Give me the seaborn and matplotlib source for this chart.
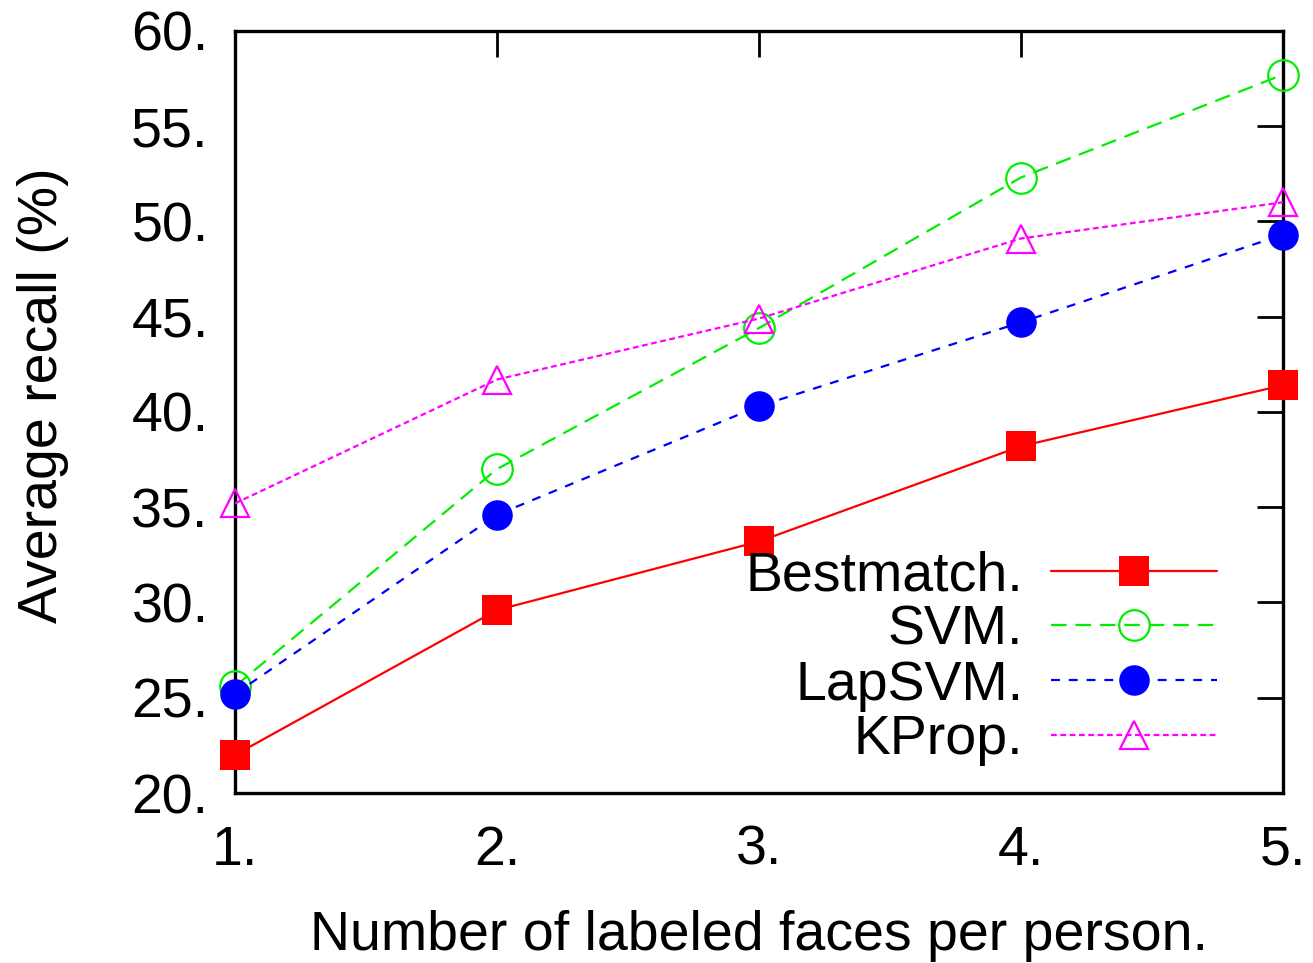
import matplotlib
matplotlib.use('Agg')
import matplotlib.pyplot as plt
import pandas as pd
import seaborn as sns

faces = [1, 2, 3, 4, 5]
bestmatch = [22.0, 29.6, 33.2, 38.2, 41.4]
svm = [25.6, 37.0, 44.4, 52.3, 57.7]
lapsvm = [25.2, 34.6, 40.3, 44.7, 49.3]
kprop = [35.2, 41.7, 44.9, 49.1, 51.0]

y_ticks = [20, 25, 30, 35, 40, 45, 50, 55, 60]

series = [
    ('Bestmatch', bestmatch, '#ff0000', 's', '-', True),
    ('SVM', svm, '#00ee00', 'o', (0, (7, 4)), False),
    ('LapSVM', lapsvm, '#0000ff', 'o', (0, (4, 4)), True),
    ('KProp', kprop, '#ff00ff', '^', (0, (2.6, 1.6)), False),
]

sns.set_style('white')
plt.rcParams['font.family'] = ['Liberation Sans', 'DejaVu Sans']
plt.rcParams['font.size'] = 40
plt.rcParams['text.color'] = 'black'
plt.rcParams['axes.labelcolor'] = 'black'
plt.rcParams['xtick.color'] = 'black'
plt.rcParams['ytick.color'] = 'black'

fig, ax = plt.subplots(figsize=(13.13, 9.63), dpi=100)
fig.subplots_adjust(left=0.179, right=0.977, top=0.968, bottom=0.1765)

for name, vals, color, marker, ls, filled in series:
    df = pd.DataFrame({'faces': faces, 'recall': vals})
    sns.lineplot(data=df, x='faces', y='recall', ax=ax, label=name,
                 color=color, marker=marker, linestyle=ls, linewidth=1.6,
                 markersize=22 if marker != '^' else 20,
                 markeredgecolor=color, markeredgewidth=0 if filled else 1.6,
                 markerfacecolor=color if filled else 'none',
                 clip_on=False, zorder=3)

ax.set_xlim(1, 5)
ax.set_ylim(20, 60)
ax.set_xticks(faces)
ax.set_xticklabels([f'{v}.' for v in faces])
ax.set_yticks(y_ticks)
ax.set_yticklabels([f'{v}.' for v in y_ticks])
ax.tick_params(direction='in', length=19, width=2, top=True, right=True,
               labelsize=40, color='black', labelcolor='black')
ax.tick_params(axis='x', pad=23)
ax.tick_params(axis='y', pad=19)
for sp in ax.spines.values():
    sp.set_linewidth(2.4)
    sp.set_color('black')

ax.set_xlabel('Number of labeled faces per person.', fontsize=40)
ax.set_ylabel('Average recall (%)', fontsize=40)
ax.xaxis.set_label_coords(0.5, -0.153)
ax.yaxis.set_label_coords(-0.158, 0.522)

ax.legend(loc='lower right', bbox_to_anchor=(0.937, 0.035), frameon=False,
          markerfirst=False, handlelength=2.98, handletextpad=0.5,
          labelspacing=0.05, borderaxespad=0, borderpad=0, fontsize=40)
leg = ax.get_legend()
for t, n in zip(leg.get_texts(), [s[0] for s in series]):
    t.set_text(n + '.')
    t.set_color('black')

plt.savefig('out.png', dpi=100)
